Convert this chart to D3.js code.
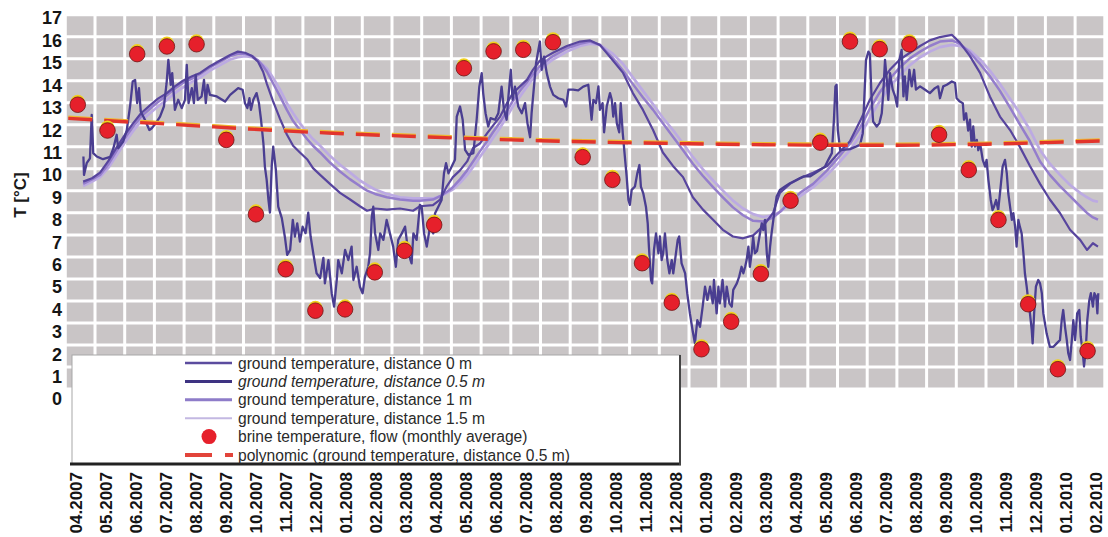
<!DOCTYPE html>
<html><head><meta charset="utf-8">
<script src="https://cdn.jsdelivr.net/npm/d3@7"></script>
<style>body{margin:0;background:#fff;}svg{display:block;font-family:"Liberation Sans",Arial,sans-serif;}</style>
</head><body><svg id="c" width="1108" height="537"></svg>
<script>
// ---------- data ----------
const monthLabels = ["04.2007","05.2007","06.2007","07.2007","08.2007","09.2007","10.2007","11.2007","12.2007",
 "01.2008","02.2008","03.2008","04.2008","05.2008","06.2008","07.2008","08.2008","09.2008","10.2008","11.2008","12.2008",
 "01.2009","02.2009","03.2009","04.2009","05.2009","06.2009","07.2009","08.2009","09.2009","10.2009","11.2009","12.2009",
 "01.2010","02.2010"];
const yTickValues = [0,1,2,3,4,5,6,7,8,9,10,11,12,13,14,15,16,17];
// brine temperature, flow (monthly average), one per month from 04.2007
const brineTemp = [13.13,11.98,15.39,15.73,15.83,11.56,8.24,5.79,3.94,4.0,5.65,6.61,7.77,14.76,15.51,15.58,15.92,10.79,9.78,6.06,4.3,2.22,3.45,5.58,8.85,11.44,15.95,15.61,15.83,11.79,10.22,7.99,4.23,1.33,2.14];
// polynomial trend (distance 0.5 m), value at start of each month
const trendTemp = [12.53,12.45,12.37,12.3,12.22,12.14,12.06,11.99,11.92,11.86,11.8,11.75,11.7,11.65,11.6,11.56,11.52,11.49,11.46,11.43,11.41,11.39,11.37,11.35,11.34,11.33,11.32,11.32,11.32,11.33,11.35,11.37,11.4,11.44,11.48,11.52];
// ground temperature, distance 0 m: [months since 1.04.2007, °C]
const ground0m = [[0.61,10.82],[0.63,10.0],[0.72,10.52],[0.83,10.74],[0.89,12.68],[0.94,10.97],[1.06,10.82],[1.27,10.7],[1.51,10.8],[1.62,11.19],[1.73,11.79],[1.78,11.19],[1.95,11.49],[2.07,12.0],[2.18,13.05],[2.27,14.17],[2.35,14.24],[2.42,13.2],[2.48,13.87],[2.54,12.83],[2.68,12.46],[2.83,12.0],[2.91,12.08],[3.05,12.31],[3.19,12.6],[3.32,13.05],[3.41,14.09],[3.47,15.13],[3.55,14.02],[3.6,14.54],[3.69,12.9],[3.8,13.35],[3.92,12.98],[4.03,13.35],[4.09,14.91],[4.15,13.2],[4.26,13.87],[4.33,13.2],[4.39,14.46],[4.46,13.35],[4.59,13.5],[4.67,14.24],[4.73,13.2],[4.79,14.02],[4.87,13.57],[5.1,13.5],[5.38,13.27],[5.55,13.57],[5.82,13.87],[5.97,13.8],[6.05,13.2],[6.13,12.98],[6.2,13.42],[6.25,12.9],[6.33,13.35],[6.44,13.65],[6.52,13.2],[6.59,12.46],[6.67,11.41],[6.72,10.37],[6.78,9.78],[6.84,8.88],[6.89,8.32],[6.95,10.37],[7.0,11.26],[7.09,10.22],[7.17,8.58],[7.29,8.07],[7.4,7.17],[7.47,6.43],[7.57,6.65],[7.66,7.99],[7.73,7.25],[7.81,7.84],[7.9,7.02],[7.99,7.69],[8.09,7.4],[8.18,8.32],[8.26,7.25],[8.35,6.5],[8.46,5.61],[8.58,5.4],[8.69,6.3],[8.74,5.16],[8.86,6.2],[8.97,4.72],[9.05,4.12],[9.14,5.31],[9.19,6.2],[9.31,5.61],[9.42,6.65],[9.53,6.2],[9.64,6.8],[9.7,5.31],[9.81,5.9],[9.92,5.01],[10.01,4.72],[10.09,5.46],[10.2,5.9],[10.26,6.5],[10.32,8.14],[10.37,8.58],[10.43,7.39],[10.54,6.65],[10.6,7.39],[10.71,7.1],[10.82,7.99],[10.93,7.39],[11.04,6.8],[11.13,5.9],[11.21,7.1],[11.33,7.39],[11.44,7.69],[11.55,6.5],[11.66,6.05],[11.72,7.39],[11.83,7.1],[11.94,8.66],[12.0,8.58],[12.08,7.39],[12.17,6.8],[12.28,7.69],[12.39,7.39],[12.45,8.29],[12.56,8.58],[12.67,8.88],[12.75,10.07],[12.82,10.52],[12.9,10.07],[13.01,10.37],[13.12,10.67],[13.18,12.6],[13.29,13.05],[13.38,12.46],[13.46,11.12],[13.57,10.89],[13.74,10.97],[13.85,12.46],[13.94,13.94],[14.02,14.54],[14.07,13.65],[14.15,12.75],[14.24,12.16],[14.32,12.53],[14.47,12.46],[14.58,12.75],[14.69,13.94],[14.77,12.9],[14.86,12.46],[14.92,13.5],[15.0,14.69],[15.06,13.35],[15.14,13.94],[15.25,13.05],[15.37,12.75],[15.48,13.2],[15.56,12.31],[15.65,11.68],[15.7,12.75],[15.78,13.94],[15.85,14.98],[15.93,15.58],[15.98,15.95],[16.04,14.69],[16.12,15.28],[16.21,14.54],[16.32,13.94],[16.43,13.57],[16.6,13.42],[16.77,13.35],[16.86,13.05],[16.94,13.8],[17.1,13.8],[17.27,13.77],[17.44,13.94],[17.61,14.02],[17.72,12.46],[17.78,13.35],[17.87,13.2],[17.95,13.95],[18.0,12.9],[18.09,13.2],[18.14,11.9],[18.23,13.05],[18.34,13.65],[18.4,13.35],[18.45,12.6],[18.51,13.2],[18.57,12.3],[18.65,11.9],[18.7,13.2],[18.77,11.85],[18.85,10.67],[18.9,9.93],[18.96,8.88],[19.01,8.66],[19.07,9.33],[19.18,9.48],[19.26,10.07],[19.33,10.44],[19.38,9.48],[19.46,9.18],[19.55,8.58],[19.61,7.84],[19.65,6.8],[19.72,5.31],[19.76,5.16],[19.82,6.65],[19.89,7.39],[19.97,6.5],[20.02,7.25],[20.08,6.2],[20.13,6.5],[20.19,7.39],[20.27,6.2],[20.34,5.61],[20.42,6.2],[20.47,5.61],[20.53,6.2],[20.62,7.1],[20.67,7.25],[20.75,6.05],[20.87,5.61],[20.94,4.72],[21.03,3.82],[21.12,3.07],[21.2,2.48],[21.28,3.52],[21.37,3.22],[21.46,4.12],[21.54,5.01],[21.62,4.42],[21.71,5.01],[21.8,4.27],[21.84,5.31],[21.93,3.82],[21.99,5.01],[22.04,4.27],[22.13,5.31],[22.21,4.12],[22.27,5.01],[22.36,4.27],[22.44,4.12],[22.49,4.87],[22.61,5.16],[22.69,5.46],[22.77,5.9],[22.83,5.61],[22.89,5.9],[22.94,6.2],[23.0,6.8],[23.05,5.9],[23.11,6.5],[23.16,7.25],[23.22,6.5],[23.29,6.6],[23.39,7.39],[23.45,7.84],[23.5,7.54],[23.56,7.99],[23.62,6.5],[23.67,5.9],[23.73,6.8],[23.78,7.39],[23.84,7.99],[23.9,8.58],[23.95,9.03],[24.06,9.33],[24.23,9.48],[24.4,9.63],[24.63,9.78],[24.85,9.93],[25.07,9.93],[25.24,10.07],[25.41,10.22],[25.58,10.37],[25.69,10.67],[25.81,10.97],[25.88,12.46],[25.93,13.95],[25.97,14.02],[26.01,12.0],[26.09,11.1],[26.42,11.15],[26.76,11.34],[26.85,11.85],[26.89,13.05],[26.96,15.13],[27.04,15.5],[27.09,15.4],[27.15,13.35],[27.2,12.38],[27.32,12.16],[27.41,12.31],[27.49,12.75],[27.54,13.65],[27.6,15.13],[27.66,14.24],[27.71,13.35],[27.77,14.54],[27.86,13.8],[27.94,13.5],[28.01,13.05],[28.08,15.13],[28.16,15.58],[28.22,13.5],[28.27,14.39],[28.33,13.35],[28.42,14.69],[28.5,13.95],[28.58,14.69],[28.64,13.8],[28.78,13.95],[28.95,13.8],[29.11,13.65],[29.28,13.87],[29.39,13.95],[29.45,13.42],[29.56,13.95],[29.68,14.02],[29.85,14.17],[29.96,14.1],[30.01,13.42],[30.12,13.27],[30.22,13.2],[30.26,12.46],[30.33,12.75],[30.4,11.98],[30.46,12.46],[30.52,11.26],[30.57,12.16],[30.63,11.26],[30.69,11.56],[30.74,11.1],[30.8,11.41],[30.89,10.67],[30.97,10.37],[31.02,10.67],[31.08,9.78],[31.16,8.88],[31.22,8.43],[31.27,8.58],[31.34,8.88],[31.41,8.43],[31.47,9.18],[31.56,10.37],[31.64,10.67],[31.7,10.07],[31.75,9.18],[31.81,8.58],[31.87,7.99],[31.92,8.29],[31.98,7.69],[32.03,6.8],[32.09,7.99],[32.14,7.69],[32.2,7.39],[32.26,6.5],[32.31,5.61],[32.37,5.01],[32.42,4.42],[32.48,3.82],[32.54,3.07],[32.57,2.48],[32.62,3.82],[32.68,5.01],[32.76,5.31],[32.82,5.16],[32.88,4.72],[32.93,3.82],[33.04,2.93],[33.15,2.33],[33.27,2.33],[33.38,2.48],[33.49,2.63],[33.55,3.52],[33.6,3.97],[33.66,3.22],[33.72,2.63],[33.77,2.04],[33.83,1.74],[33.89,2.63],[33.94,3.52],[34.0,2.63],[34.07,3.82],[34.14,3.97],[34.19,2.78],[34.26,2.04],[34.3,1.45],[34.36,2.2],[34.41,3.52],[34.48,4.42],[34.53,4.72],[34.6,4.12],[34.65,4.72],[34.71,4.57],[34.75,3.82],[34.78,4.72]];
// shared time base (months since 1.04.2007) for the smooth probes
const smoothT = [0.6,0.9,1.17,1.44,1.74,2.01,2.28,2.55,2.85,3.12,3.42,3.69,3.96,4.27,4.54,4.87,5.21,5.55,5.81,6.05,6.29,6.49,6.66,6.79,6.99,7.23,7.46,7.67,7.9,8.14,8.34,8.58,8.91,9.25,9.59,9.92,10.16,10.43,10.83,11.27,11.71,11.94,12.38,12.62,12.85,13.05,13.29,13.53,13.73,13.96,14.2,14.4,14.64,14.87,15.07,15.31,15.55,15.75,15.98,16.22,16.42,16.89,17.33,17.67,18.0,18.44,18.78,19.11,19.45,19.79,20.12,20.46,20.8,21.13,21.47,21.81,22.14,22.48,22.82,23.16,23.49,23.83,24.06,24.4,24.74,25.18,25.65,25.98,26.42,26.76,27.09,27.43,27.77,28.1,28.44,28.78,29.11,29.45,29.85,30.12,30.46,30.8,31.13,31.47,31.81,32.14,32.48,32.82,33.15,33.49,33.83,34.17,34.4,34.6,34.77];
const ground05m = [9.7,9.85,10.1,10.6,11.25,11.8,12.3,12.75,13.1,13.4,13.65,13.95,14.2,14.4,14.55,14.85,15.1,15.35,15.5,15.45,15.3,15.05,14.6,14.05,13.3,12.5,11.8,11.3,11.0,10.7,10.3,10.0,9.6,9.2,8.9,8.6,8.4,8.5,8.45,8.5,8.4,8.6,8.65,8.9,9.5,9.9,10.2,10.6,11.2,11.4,11.85,12.2,12.6,13.2,13.65,13.95,14.25,14.7,15.1,15.3,15.45,15.75,15.95,16.0,15.8,15.1,14.55,13.65,12.9,12.0,11.0,10.4,9.9,9.0,8.45,8.0,7.55,7.25,7.17,7.3,7.7,8.3,9.2,9.6,9.85,10.1,10.4,10.9,11.5,12.4,13.35,14.1,14.7,15.15,15.45,15.75,16.0,16.15,16.25,15.9,15.3,14.55,13.5,12.6,12.0,11.25,10.4,9.6,8.9,8.3,7.55,7.1,6.65,6.95,6.8];
const ground1m = [9.6,9.8,10.0,10.45,11.1,11.65,12.15,12.6,12.95,13.25,13.55,13.85,14.1,14.3,14.5,14.8,15.05,15.3,15.4,15.4,15.3,15.1,14.85,14.6,14.1,13.5,12.9,12.4,12.0,11.6,11.3,11.0,10.55,10.15,9.8,9.5,9.3,9.15,9.0,8.9,8.85,8.85,8.9,9.05,9.25,9.45,9.8,10.2,10.6,11.05,11.5,11.9,12.35,12.85,13.3,13.75,14.15,14.5,14.85,15.1,15.3,15.65,15.85,15.95,15.8,15.2,14.65,14.05,13.45,12.9,12.3,11.7,11.1,10.5,9.95,9.45,9.0,8.55,8.2,7.95,7.92,8.1,8.35,8.8,9.2,9.6,10.2,10.7,11.4,12.1,12.95,13.7,14.3,14.8,15.2,15.5,15.75,15.95,16.0,15.85,15.45,14.95,14.4,13.75,13.0,12.25,11.5,10.6,10.0,9.5,9.05,8.6,8.3,8.1,8.0];
const ground15m = [9.5,9.7,9.9,10.3,10.9,11.45,11.95,12.4,12.75,13.05,13.35,13.65,13.9,14.15,14.35,14.65,14.9,15.15,15.25,15.3,15.25,15.1,14.9,14.75,14.35,13.8,13.2,12.75,12.3,11.9,11.6,11.3,10.85,10.45,10.1,9.75,9.55,9.35,9.15,9.0,8.95,8.95,8.95,9.05,9.2,9.35,9.65,10.0,10.35,10.8,11.25,11.65,12.1,12.6,13.05,13.5,13.95,14.3,14.65,14.95,15.15,15.5,15.75,15.85,15.8,15.4,14.95,14.35,13.75,13.15,12.55,12.0,11.4,10.8,10.25,9.75,9.3,8.85,8.5,8.25,8.12,8.2,8.35,8.7,9.05,9.45,10.0,10.45,11.1,11.75,12.55,13.3,13.95,14.45,14.9,15.25,15.5,15.7,15.8,15.75,15.55,15.15,14.65,14.05,13.4,12.75,12.0,11.1,10.5,10.0,9.55,9.2,9.0,8.85,8.8];
const legendLabels = ["ground temperature, distance 0 m","ground temperature, distance 0.5 m","ground temperature, distance 1 m","ground temperature, distance 1.5 m","brine temperature, flow (monthly average)","polynomic (ground temperature, distance 0.5 m)"];

// ---------- scales ----------
const svg = d3.select("#c");
const x = d3.scaleLinear().domain([0, 35]).range([65.3, 1104.8]);
const y = d3.scaleLinear().domain([0, 17]).range([399, 18]);       // value / tick-label scale
const gridY = d3.scaleLinear().domain([0, 17]).range([389, 14.7]); // background grid raster
const xLab = d3.scalePoint().domain(monthLabels).range([76, 1096]);

// ---------- background grid ----------
svg.append("rect").attr("x", x(0)).attr("y", gridY(17)).attr("width", x(35) - x(0)).attr("height", gridY(0) - gridY(17)).attr("fill", "#c9c5c6");
svg.append("g").selectAll("line").data(d3.range(0, 36)).join("line")
  .attr("x1", d => x(d)).attr("x2", d => x(d)).attr("y1", gridY(17)).attr("y2", gridY(0))
  .attr("stroke", "#fff").attr("stroke-width", 3);
svg.append("g").selectAll("line").data(yTickValues).join("line")
  .attr("x1", x(0)).attr("x2", x(35)).attr("y1", d => gridY(d)).attr("y2", d => gridY(d))
  .attr("stroke", "#fff").attr("stroke-width", 3);

// ---------- clip ----------
svg.append("clipPath").attr("id", "plot").append("rect")
  .attr("x", x(0) + 2).attr("y", 0).attr("width", x(35) - x(0) - 3).attr("height", gridY(0));
const plot = svg.append("g").attr("clip-path", "url(#plot)");

const line = d3.line().x(d => x(d[0])).y(d => y(d[1]));
const zipT = vals => smoothT.map((t, i) => [t, vals[i]]);
const series = [
  {data: zipT(ground15m), color: "#bcaae2", w: 2.7},
  {data: zipT(ground1m), color: "#947dcc", w: 2.5},
  {data: zipT(ground05m), color: "#58459e", w: 2.2},
  {data: ground0m, color: "#4a3e91", w: 2.3}
];
plot.selectAll("path.s").data(series).join("path").attr("class", "s")
  .attr("d", d => line(d.data)).attr("fill", "none")
  .attr("stroke", d => d.color).attr("stroke-width", d => d.w).attr("stroke-linejoin", "round");

// polynomial trend
const trendPts = trendTemp.map((v, i) => [i, v]);
plot.append("path").attr("d", line(trendPts)).attr("fill", "none")
  .attr("stroke", "#f0b830").attr("stroke-width", 3).attr("stroke-dasharray", "24,12")
  .attr("stroke-dashoffset", -3).attr("transform", "translate(0,-1.3)");
plot.append("path").attr("d", line(trendPts)).attr("fill", "none")
  .attr("stroke", "#e2342c").attr("stroke-width", 3.4).attr("stroke-dasharray", "24,12").attr("stroke-dashoffset", -3);

// brine dots
const dots = svg.append("g");
dots.selectAll("circle.h").data(brineTemp).join("circle").attr("class", "h")
  .attr("cx", (d, i) => x(i + 0.42)).attr("cy", d => y(d) - 3).attr("r", 7).attr("fill", "#f2d21c");
dots.selectAll("circle.d").data(brineTemp).join("circle").attr("class", "d")
  .attr("cx", (d, i) => x(i + 0.42)).attr("cy", d => y(d)).attr("r", 7.8)
  .attr("fill", "#e6202b").attr("stroke", "#6e1515").attr("stroke-width", 0.8);

// ---------- y axis labels ----------
svg.append("g").selectAll("text").data(yTickValues).join("text")
  .attr("x", 62).attr("y", d => y(d)).attr("dy", "0.36em").attr("text-anchor", "end")
  .attr("font-size", 18).attr("font-weight", "bold").attr("fill", "#151515").text(d => d);
svg.append("text").attr("transform", "translate(26,195) rotate(-90)").attr("text-anchor", "middle")
  .attr("font-size", 17).attr("font-weight", "bold").attr("fill", "#1a1a1a").text("T [°C]");

// ---------- x axis labels ----------
svg.append("g").selectAll("text").data(monthLabels).join("text")
  .attr("transform", d => `translate(${xLab(d)},472) rotate(-90)`).attr("dy", "0.36em")
  .attr("text-anchor", "end").attr("font-size", 17).attr("font-weight", "bold").attr("fill", "#151515").text(d => d);

// ---------- legend ----------
const lg = svg.append("g");
lg.append("rect").attr("x", 72).attr("y", 355).attr("width", 608).attr("height", 109)
  .attr("fill", "#fff").attr("stroke", "#a8a8a8").attr("stroke-width", 1);
lg.append("line").attr("x1", 70).attr("x2", 681).attr("y1", 464).attr("y2", 464).attr("stroke", "#222").attr("stroke-width", 3);
lg.append("line").attr("x1", 680).attr("x2", 680).attr("y1", 355).attr("y2", 465).attr("stroke", "#444").attr("stroke-width", 2);
const rowY = i => 363 + i * 18.4;
const legendLineStyles = [
  {color: "#5b4c9e", w: 2.6}, {color: "#3e3382", w: 3}, {color: "#8e7cc9", w: 3}, {color: "#c3b8e2", w: 2}
];
legendLineStyles.forEach((s, i) => {
  lg.append("line").attr("x1", 185).attr("x2", 232).attr("y1", rowY(i)).attr("y2", rowY(i))
    .attr("stroke", s.color).attr("stroke-width", s.w);
});
lg.append("circle").attr("cx", 209).attr("cy", rowY(4)).attr("r", 7.5).attr("fill", "#e6202b");
lg.append("line").attr("x1", 185).attr("x2", 233).attr("y1", rowY(5)).attr("y2", rowY(5))
  .attr("stroke", "#e2443a").attr("stroke-width", 4).attr("stroke-dasharray", "27,13,8");
lg.selectAll("text").data(legendLabels).join("text")
  .attr("x", 238).attr("y", (d, i) => rowY(i)).attr("dy", "0.36em")
  .attr("font-size", 15.6).attr("fill", "#2a2a2a")
  .attr("font-style", (d, i) => i === 1 ? "italic" : "normal").text(d => d);
</script></body></html>
